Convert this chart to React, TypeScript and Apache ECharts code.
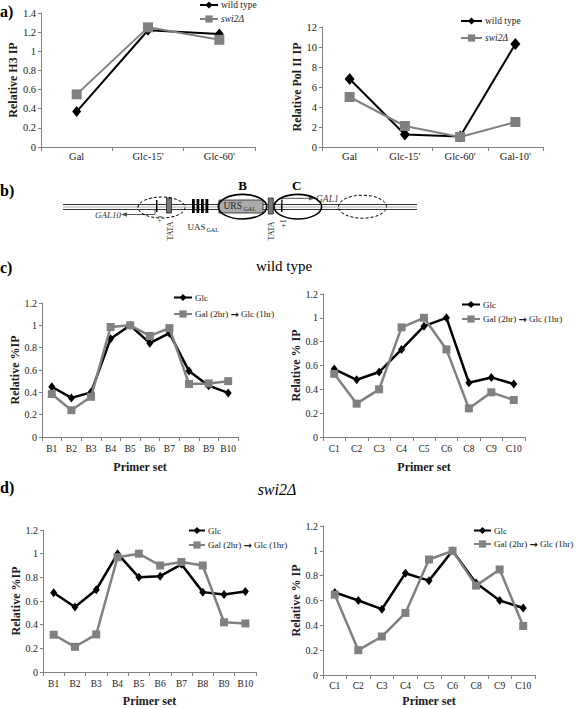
import React, { useEffect, useRef } from 'react';
import * as echarts from 'echarts';

const F = "'Liberation Serif','Times New Roman',serif";

// ---- data ----
const aLeftCats = ['Gal', "Glc-15'", "Glc-60'"];
const aLeftWT = [0.37, 1.22, 1.18];
const aLeftSwi = [0.55, 1.25, 1.12];

const aRightCats = ['Gal', "Glc-15'", "Glc-60'", "Gal-10'"];
const aRightWT = [6.8, 1.25, 1.05, 10.3];
const aRightSwi = [5.0, 2.1, 1.0, 2.5];

const bCats = ['B1', 'B2', 'B3', 'B4', 'B5', 'B6', 'B7', 'B8', 'B9', 'B10'];
const cCats = ['C1', 'C2', 'C3', 'C4', 'C5', 'C6', 'C8', 'C9', 'C10'];

const cLeftGlc = [0.45, 0.35, 0.4, 0.88, 1.0, 0.84, 0.93, 0.59, 0.46, 0.395];
const cLeftGal = [0.385, 0.24, 0.36, 0.985, 1.0, 0.905, 0.975, 0.475, 0.48, 0.5];
const cRightGlc = [0.57, 0.48, 0.545, 0.735, 0.93, 1.0, 0.455, 0.5, 0.445];
const cRightGal = [0.53, 0.28, 0.4, 0.92, 1.0, 0.735, 0.24, 0.375, 0.31];

const dLeftGlc = [0.67, 0.55, 0.695, 1.0, 0.8, 0.81, 0.91, 0.675, 0.655, 0.68];
const dLeftGal = [0.315, 0.213, 0.318, 0.97, 1.0, 0.9, 0.93, 0.9, 0.42, 0.41];
const dRightGlc = [0.665, 0.6, 0.53, 0.82, 0.76, 1.0, 0.74, 0.6, 0.54];
const dRightGal = [0.647, 0.2, 0.31, 0.5, 0.93, 1.0, 0.72, 0.85, 0.395];

const aNames = ['wild type', 'swi2Δ'];
const cdNames = ['Glc', 'Gal (2hr) → Glc (1hr)'];

const BLACK = '#000000';
const GRAY = '#808080';
const AXIS = '#808080';
const TXT = '#1a1a1a';

type Panel = {
  grid: { left: number; top: number; width: number; height: number };
  cats: string[];
  yMax: number;
  yInt: number;
  yName: string;
  yNameGap: number;
  xName?: string;
  xNameGap?: number;
  tickFont: number;
  xFont: number;
  xMargin: number;
  names: string[];
  black: number[];
  gray: number[];
  lw: number;
  dia: number[];
  sq: number;
  legend: { left: number; top: number; gap: number; font: number; iw: number };
};

const panels: Panel[] = [
  {
    grid: { left: 41, top: 13, width: 214, height: 134 },
    cats: aLeftCats, yMax: 1.4, yInt: 0.2, yName: 'Relative H3 IP', yNameGap: 20,
    tickFont: 10.5, xFont: 10.5, xMargin: 4,
    names: aNames, black: aLeftWT, gray: aLeftSwi, lw: 2, dia: [9, 11], sq: 10,
    legend: { left: 199, top: 0, gap: 4, font: 9.5, iw: 18 },
  },
  {
    grid: { left: 322, top: 27, width: 221, height: 120 },
    cats: aRightCats, yMax: 12, yInt: 2, yName: 'Relative Pol II IP', yNameGap: 19,
    tickFont: 10.5, xFont: 10.5, xMargin: 4,
    names: aNames, black: aRightWT, gray: aRightSwi, lw: 2, dia: [10, 12], sq: 10,
    legend: { left: 460, top: 16, gap: 7, font: 9.5, iw: 21 },
  },
  {
    grid: { left: 42, top: 303, width: 196, height: 134 },
    cats: bCats, yMax: 1.2, yInt: 0.2, yName: 'Relative %IP', yNameGap: 20,
    xName: 'Primer set', xNameGap: 24,
    tickFont: 10, xFont: 9.5, xMargin: 7,
    names: cdNames, black: cLeftGlc, gray: cLeftGal, lw: 2.5, dia: [7, 9], sq: 8,
    legend: { left: 173, top: 293, gap: 7, font: 9, iw: 18 },
  },
  {
    grid: { left: 323, top: 294, width: 202, height: 143 },
    cats: cCats, yMax: 1.2, yInt: 0.2, yName: 'Relative % IP', yNameGap: 16,
    xName: 'Primer set', xNameGap: 24,
    tickFont: 10, xFont: 9.5, xMargin: 7,
    names: cdNames, black: cRightGlc, gray: cRightGal, lw: 2.5, dia: [7, 9], sq: 8,
    legend: { left: 461, top: 300, gap: 5, font: 9, iw: 18 },
  },
  {
    grid: { left: 43, top: 530, width: 213, height: 145 },
    cats: bCats, yMax: 1.2, yInt: 0.2, yName: 'Relative %IP', yNameGap: 21,
    xName: 'Primer set', xNameGap: 23,
    tickFont: 10, xFont: 9.5, xMargin: 7,
    names: cdNames, black: dLeftGlc, gray: dLeftGal, lw: 2.5, dia: [7, 9], sq: 8,
    legend: { left: 188, top: 526, gap: 5, font: 9, iw: 16 },
  },
  {
    grid: { left: 323, top: 526, width: 212, height: 152 },
    cats: cCats, yMax: 1.2, yInt: 0.2, yName: 'Relative % IP', yNameGap: 15,
    xName: 'Primer set', xNameGap: 20,
    tickFont: 10, xFont: 9.5, xMargin: 6,
    names: cdNames, black: dRightGlc, gray: dRightGal, lw: 2.5, dia: [7, 9], sq: 8,
    legend: { left: 473, top: 526, gap: 4, font: 9, iw: 17 },
  },
];

function txt(x: number, y: number, text: string, opts: any = {}) {
  const { rotation, ...style } = opts;
  return {
    type: 'text',
    x,
    y,
    rotation: rotation || 0,
    style: {
      text,
      fontFamily: F,
      fontSize: 10,
      fill: '#000',
      align: 'center',
      verticalAlign: 'middle',
      ...style,
    },
  };
}

function ln(x1: number, y1: number, x2: number, y2: number, stroke = '#000', lineWidth = 1) {
  return { type: 'line', shape: { x1, y1, x2, y2 }, style: { stroke, lineWidth } };
}

function ell(cx: number, cy: number, rx: number, ry: number, dashed: boolean) {
  return {
    type: 'ellipse',
    shape: { cx, cy, rx, ry },
    style: { fill: 'none', stroke: '#000', lineWidth: dashed ? 1 : 1.6, lineDash: dashed ? [3, 2] : null },
  };
}

function rc(x: number, y: number, width: number, height: number, fill: string, stroke?: string) {
  return {
    type: 'rect',
    shape: { x, y, width, height },
    style: { fill, stroke: stroke || null, lineWidth: 0.8 },
  };
}

function buildGraphic() {
  const g: any[] = [];
  // panel letters
  g.push(txt(0, 11, 'a)', { fontSize: 16, fontWeight: 'bold', align: 'left' }));
  g.push(txt(0, 190, 'b)', { fontSize: 16, fontWeight: 'bold', align: 'left' }));
  g.push(txt(0, 267, 'c)', { fontSize: 16, fontWeight: 'bold', align: 'left' }));
  g.push(txt(0, 487, 'd)', { fontSize: 16, fontWeight: 'bold', align: 'left' }));
  // section titles
  g.push(txt(284, 266, 'wild type', { fontSize: 15 }));
  g.push(txt(277, 489, 'swi2Δ', { fontSize: 16, fontStyle: 'italic' }));

  // diagram (b)
  g.push(ln(63, 204.5, 417, 204.5, '#333', 1));
  g.push(ln(63, 207, 417, 207, '#aaa', 1));
  g.push(ln(63, 209.5, 417, 209.5, '#333', 1));
  // left region
  g.push(ln(156.7, 200, 156.7, 212, '#000', 1.5));
  g.push(rc(166.5, 198, 5, 15, '#777', '#222'));
  g.push(ln(155, 210, 155, 214.5, '#555', 1));
  g.push(ln(155, 214.5, 126, 214.5, '#555', 1));
  g.push({ type: 'polygon', shape: { points: [[121, 214.5], [127, 212.3], [127, 216.7]] }, style: { fill: '#555' } });
  g.push(txt(121, 215, 'GAL10', { fontSize: 9, fontStyle: 'italic', align: 'right', fill: '#333' }));
  g.push(txt(160, 219, '+1', { fontSize: 7, rotation: Math.PI / 2, fill: '#333' }));
  g.push(txt(170, 231, 'TATA', { fontSize: 8, rotation: Math.PI / 2, fill: '#222' }));
  g.push(ell(161.5, 207.5, 23.5, 10.5, true));
  // UAS
  [192, 196.5, 201, 205.5].forEach((x) => g.push(rc(x, 199, 2.8, 14, '#000')));
  g.push(txt(187.5, 227, 'UAS', { fontSize: 9, align: 'left', fill: '#222' }));
  g.push(txt(206.5, 229.5, 'GAL', { fontSize: 6, align: 'left', fill: '#222' }));
  // URS
  g.push(rc(219, 200, 44, 13, '#aaaaaa', '#222'));
  g.push(txt(223.5, 206, 'URS', { fontSize: 9.5, align: 'left', fill: '#222' }));
  g.push(txt(243.5, 209, 'GAL', { fontSize: 6, align: 'left', fill: '#222' }));
  g.push(ell(242.5, 206.7, 24.2, 12.3, false));
  g.push(txt(242.7, 185, 'B', { fontSize: 13, fontWeight: 'bold' }));
  // right TATA and GAL1
  g.push(rc(268.3, 198, 5, 16, '#777', '#222'));
  g.push(ln(281.7, 200, 281.7, 212, '#000', 1.5));
  g.push(txt(271.5, 231, 'TATA', { fontSize: 8, rotation: Math.PI / 2, fill: '#222' }));
  g.push(txt(283, 223.5, '+1', { fontSize: 8, rotation: Math.PI / 2, fill: '#222' }));
  g.push(ln(281.7, 204, 281.7, 198.3, '#555', 1));
  g.push(ln(281.7, 198.3, 310, 198.3, '#555', 1));
  g.push({ type: 'polygon', shape: { points: [[315, 198.3], [309, 196.1], [309, 200.5]] }, style: { fill: '#555' } });
  g.push(txt(316, 198.5, 'GAL1', { fontSize: 9.5, fontStyle: 'italic', align: 'left', fill: '#444' }));
  g.push(ell(297.8, 206.7, 23.8, 12.3, false));
  g.push(txt(296.7, 185, 'C', { fontSize: 13, fontWeight: 'bold' }));
  g.push(ell(362.5, 206.7, 24, 11.5, true));
  return g;
}

function buildOption() {
  const grid: any[] = [];
  const xAxis: any[] = [];
  const yAxis: any[] = [];
  const series: any[] = [];
  const legend: any[] = [];
  panels.forEach((p, i) => {
    grid.push({ ...p.grid, containLabel: false });
    xAxis.push({
      type: 'category',
      gridIndex: i,
      data: p.cats,
      boundaryGap: true,
      name: p.xName || '',
      nameLocation: 'middle',
      nameGap: p.xNameGap || 20,
      nameTextStyle: { fontFamily: F, fontWeight: 'bold', fontSize: 12, color: TXT },
      axisLine: { show: true, lineStyle: { color: AXIS, width: 1 } },
      axisTick: { show: true, interval: 0, length: 4, lineStyle: { color: AXIS } },
      axisLabel: { interval: 0, margin: p.xMargin, fontFamily: F, fontSize: p.xFont, color: TXT },
      splitLine: { show: false },
    });
    yAxis.push({
      type: 'value',
      gridIndex: i,
      min: 0,
      max: p.yMax,
      interval: p.yInt,
      name: p.yName,
      nameLocation: 'middle',
      nameRotate: 90,
      nameGap: p.yNameGap,
      nameTextStyle: { fontFamily: F, fontWeight: 'bold', fontSize: 12, color: TXT },
      axisLine: { show: true, lineStyle: { color: AXIS, width: 1 } },
      axisTick: { show: true, length: 3, lineStyle: { color: AXIS } },
      axisLabel: { margin: 5, fontFamily: F, fontSize: p.tickFont, color: TXT },
      splitLine: { show: false },
    });
    series.push({
      type: 'line',
      name: p.names[0],
      xAxisIndex: i,
      yAxisIndex: i,
      data: p.black,
      symbol: 'diamond',
      symbolSize: p.dia,
      lineStyle: { color: BLACK, width: p.lw },
      itemStyle: { color: BLACK },
      z: 2,
    });
    series.push({
      type: 'line',
      name: p.names[1],
      xAxisIndex: i,
      yAxisIndex: i,
      data: p.gray,
      symbol: 'rect',
      symbolSize: p.sq,
      lineStyle: { color: GRAY, width: p.lw },
      itemStyle: { color: GRAY },
      z: 3,
    });
    legend.push({
      orient: 'vertical',
      left: p.legend.left,
      top: p.legend.top,
      padding: 0,
      itemGap: p.legend.gap,
      itemWidth: p.legend.iw,
      itemHeight: 9,
      selectedMode: false,
      data: p.names,
      formatter: (n: string) => {
        if (n === 'swi2Δ') return '{i|swi2Δ}';
        if (n.indexOf('→') >= 0) return n.replace('→', '{ar|→}');
        return n;
      },
      textStyle: {
        fontFamily: F,
        fontSize: p.legend.font,
        color: TXT,
        padding: [0, 0, 0, -2],
        rich: {
          i: { fontFamily: F, fontSize: p.legend.font, fontStyle: 'italic', color: TXT },
          ar: { fontFamily: "'DejaVu Sans',sans-serif", fontSize: p.legend.font + 1, fontWeight: 'bold', color: TXT },
        },
      },
    });
  });
  return {
    animation: false,
    backgroundColor: '#ffffff',
    textStyle: { fontFamily: F },
    grid,
    xAxis,
    yAxis,
    series,
    legend,
    graphic: buildGraphic(),
  };
}

export default function App() {
  const ref = useRef<HTMLDivElement>(null);
  useEffect(() => {
    if (!ref.current) return;
    const chart = echarts.init(ref.current, undefined, { renderer: 'svg' });
    chart.setOption(buildOption() as any);
    return () => chart.dispose();
  }, []);
  return (
    <div
      ref={ref}
      style={{ position: 'fixed', left: 0, top: 0, width: 576, height: 708, background: '#fff' }}
    />
  );
}
